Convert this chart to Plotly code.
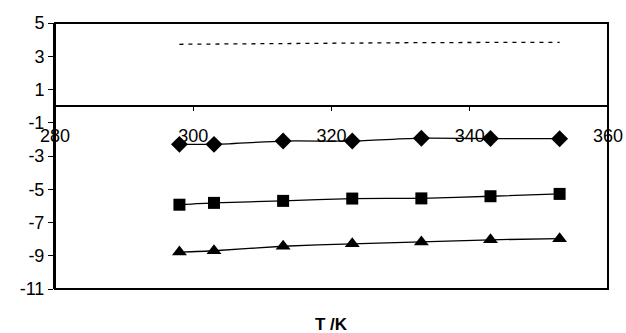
import plotly.graph_objects as go

# Data
T = [298, 303, 313, 323, 333, 343, 353]
series_dashed = [3.72, 3.74, 3.78, 3.80, 3.82, 3.83, 3.83]
series_diamond = [-2.3, -2.3, -2.1, -2.1, -1.93, -1.95, -1.96]
series_square = [-5.93, -5.82, -5.7, -5.56, -5.55, -5.42, -5.28]
series_triangle = [-8.78, -8.7, -8.43, -8.28, -8.17, -8.04, -7.97]

x_ticks = [280, 300, 320, 340, 360]
y_ticks = [-11, -9, -7, -5, -3, -1, 1, 3, 5]
y_tick_labels = [str(v) for v in y_ticks]

FONT = "Liberation Sans, Arial, sans-serif"

fig = go.Figure()
fig.add_trace(go.Scatter(x=T, y=series_dashed, mode="lines",
                         line=dict(color="black", width=1.3, dash="4px,5px"),
                         showlegend=False))
fig.add_trace(go.Scatter(x=T, y=series_diamond, mode="lines+markers",
                         line=dict(color="black", width=1.3, shape="spline", smoothing=0.6),
                         marker=dict(symbol="diamond", size=13, color="black"),
                         showlegend=False))
fig.add_trace(go.Scatter(x=T, y=series_square, mode="lines+markers",
                         line=dict(color="black", width=1.3, shape="spline", smoothing=0.6),
                         marker=dict(symbol="square", size=12, color="black"),
                         showlegend=False))
fig.add_trace(go.Scatter(x=T, y=series_triangle, mode="lines+markers",
                         line=dict(color="black", width=1.3, shape="spline", smoothing=0.6),
                         marker=dict(symbol="triangle-up", size=13, color="black"),
                         showlegend=False))

fig.update_layout(
    width=626, height=333,
    margin=dict(l=55, r=18, t=23, b=44, autoexpand=False),
    plot_bgcolor="white", paper_bgcolor="white",
    font=dict(family=FONT, size=18, color="black"),
    xaxis=dict(range=[280, 360], tickvals=x_ticks, anchor="free",
               position=11 / 16, showline=True, linecolor="black", linewidth=2,
               ticks="outside", ticklen=4, tickcolor="black", tickwidth=1,
               showgrid=False, zeroline=False, ticklabelstandoff=9,
               automargin=False,
               tickfont=dict(family=FONT, size=18, color="black")),
    yaxis=dict(range=[-11, 5], tickvals=y_ticks, ticktext=y_tick_labels,
               showline=True, linecolor="black", linewidth=2,
               ticks="outside", ticklen=5, tickcolor="black", tickwidth=1,
               showgrid=False, zeroline=False, automargin=False,
               tickfont=dict(family=FONT, size=18, color="black")),
    shapes=[dict(type="rect", xref="paper", yref="paper", x0=0, x1=1, y0=0, y1=1,
                 line=dict(color="black", width=2), fillcolor="rgba(0,0,0,0)")],
    annotations=[dict(text="<b>T /K</b>", xref="paper", yref="paper", x=0.5, y=-0.135,
                      showarrow=False, xanchor="center", yanchor="middle",
                      font=dict(family=FONT, size=17, color="black"))],
)

fig.write_html("out.html", config={"displayModeBar": False},
               post_script="document.body.style.margin='0';")
